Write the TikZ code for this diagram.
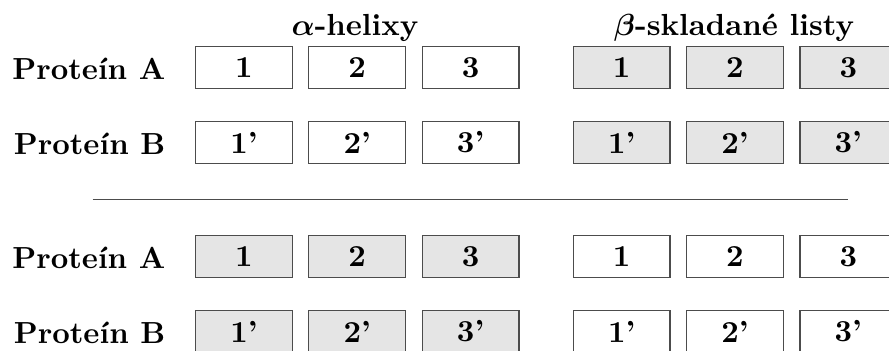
\documentclass[tikz,border=0pt]{standalone}
\usepackage{fontspec}
\usepackage{amsmath}
\usepackage{bm}
\begin{document}
\begin{tikzpicture}[x=0.328pt, y=-0.328pt,
  seg/.style={draw=black!70, line width=0.4pt, minimum width=31.7pt, minimum height=13.7pt,
    inner sep=0pt, font=\bfseries},
  plain/.style={seg, fill=white},
  shaded/.style={seg, fill=black!10},
  rowlabel/.style={anchor=base east, inner sep=0pt, font=\bfseries},
  grouplabel/.style={anchor=base, inner sep=0pt, font=\bfseries},
  rule/.style={draw=black!70, line width=0.4pt}]
\useasboundingbox (0,0) rectangle (889,351);

% group headings
\node[grouplabel] (alpha) at (355,35) {$\bm{\alpha}$-helixy};
\node[grouplabel] (beta) at (734,35.5) {$\bm{\beta}$-skladané listy};

% upper pair: helices plain, sheets shaded
\node[rowlabel] (uA) at (166,79) {Proteín A};
\node[rowlabel] (uB) at (166,154) {Proteín B};
\foreach \x/\t [count=\i] in {244/1,357.2/2,470.6/3}{
  \node[plain] (uAh\i) at (\x,67.5) {\t};
  \node[plain] (uBh\i) at (\x,142.5) {\t’};
}
\foreach \x/\t [count=\i] in {621.7/1,735/2,848.3/3}{
  \node[shaded] (uAs\i) at (\x,67.5) {\t};
  \node[shaded] (uBs\i) at (\x,142.5) {\t’};
}

% separator
\coordinate (sepL) at (92.7,199.3);
\coordinate (sepR) at (848.3,199.3);
\draw[rule] (sepL) -- (sepR);

% lower pair: helices shaded, sheets plain
\node[rowlabel] (lA) at (166,268) {Proteín A};
\node[rowlabel] (lB) at (166,343) {Proteín B};
\foreach \x/\t [count=\i] in {244/1,357.2/2,470.6/3}{
  \node[shaded] (lAh\i) at (\x,256.5) {\t};
  \node[shaded] (lBh\i) at (\x,331.5) {\t’};
}
\foreach \x/\t [count=\i] in {621.7/1,735/2,848.3/3}{
  \node[plain] (lAs\i) at (\x,256.5) {\t};
  \node[plain] (lBs\i) at (\x,331.5) {\t’};
}
\end{tikzpicture}
\end{document}
